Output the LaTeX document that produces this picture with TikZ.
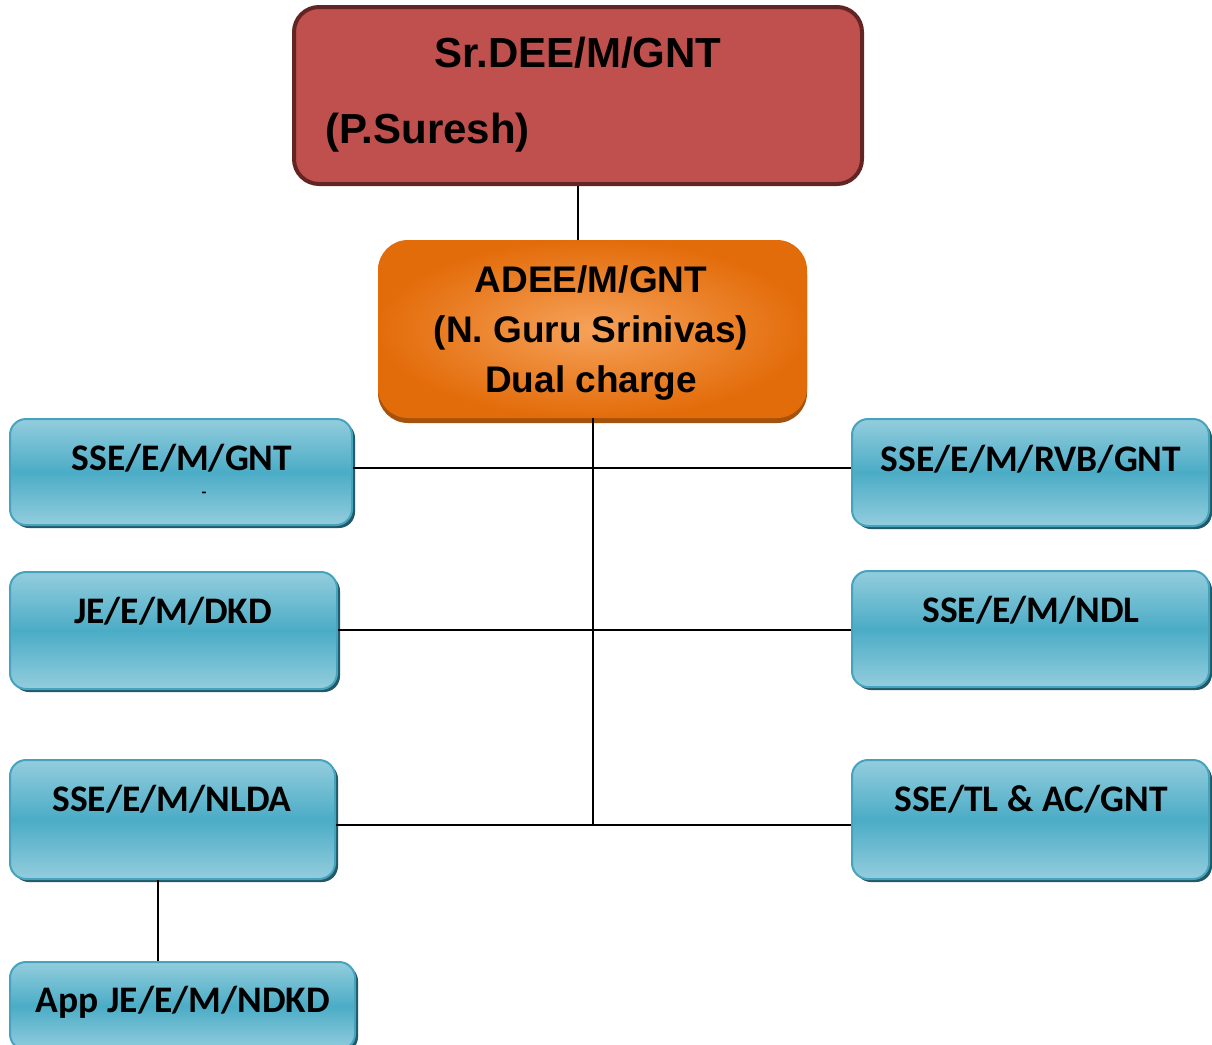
\documentclass[tikz,border=0pt]{standalone}
\usepackage{fontspec}
\setmainfont{Liberation Sans}
\newfontfamily\calfont{Carlito}
\usetikzlibrary{shadows}
\definecolor{srfill}{HTML}{C0504D}
\definecolor{srline}{HTML}{632523}
\definecolor{adeeout}{HTML}{E36C0A}
\definecolor{adeein}{HTML}{F6A25A}
\definecolor{adeeshade}{HTML}{A5520C}
\definecolor{sselight}{HTML}{93CDDD}
\definecolor{ssemid}{HTML}{4BACC6}
\definecolor{sseline}{HTML}{45A3BE}
\definecolor{sseshade}{HTML}{215967}
\begin{document}
\begin{tikzpicture}[x=1pt,y=-1pt,
	srbox/.style={draw=srline,fill=srfill,line width=4pt,rounded corners=25pt,minimum width=568pt,minimum height=177pt,inner sep=0pt},
	srtxt/.style={inner sep=0pt,font=\bfseries\fontsize{42}{48}\selectfont},
	adeebox/.style={inner color=adeein,outer color=adeeout,rounded corners=30pt,minimum width=429pt,minimum height=178pt,inner sep=0pt,drop shadow={fill=adeeshade,opacity=1,shadow xshift=0pt,shadow yshift=-5pt}},
	adeetxt/.style={anchor=base,inner sep=0pt,font=\bfseries\fontsize{37}{50}\selectfont},
	ssebox/.style={draw=sseline,line width=2pt,top color=sselight,bottom color=sselight,middle color=ssemid,rounded corners=16pt,inner sep=0pt,drop shadow={fill=sseshade,opacity=1,shadow xshift=3pt,shadow yshift=-3pt}},
	ssetxt/.style={anchor=base,inner sep=0pt,font=\calfont\bfseries\fontsize{37.5}{44}\selectfont},
	link/.style={line width=1.5pt}]
\clip (0,0) rectangle (1212,1044);
\node[srbox] (sr) at (578,95.5) {};
\node[srtxt,anchor=base] (srpost) at (578,67) {Sr.DEE/M/GNT};
\node[srtxt,anchor=base west] (srname) at (325,143) {(P.Suresh)};
\node[adeebox] (adee) at (592.5,329) {};
\node[adeetxt] (adeepost) at (591,292) {ADEE/M/GNT};
\node[adeetxt] (adeename) at (591,342) {(N. Guru Srinivas)};
\node[adeetxt] (adeenote) at (591,392) {Dual charge};
\node[ssebox,minimum width=342pt,minimum height=106pt] (gnt) at (181,472) {};
\node[ssetxt] (gnttxt) at (182,470) {SSE/E/M/GNT};
\node[inner sep=0pt,font=\calfont\bfseries\fontsize{16}{18}\selectfont] (gntdash) at (204,495) {-};
\node[ssebox,minimum width=357pt,minimum height=107pt] (rvb) at (1030.5,472.5) {};
\node[ssetxt] (rvbtxt) at (1031,471) {SSE/E/M/RVB/GNT};
\node[ssebox,minimum width=327pt,minimum height=117pt] (dkd) at (173.5,630.5) {};
\node[ssetxt] (dkdtxt) at (173,623) {JE/E/M/DKD};
\node[ssebox,minimum width=357pt,minimum height=116pt] (ndl) at (1030.5,629) {};
\node[ssetxt] (ndltxt) at (1031,622) {SSE/E/M/NDL};
\node[ssebox,minimum width=325pt,minimum height=119pt] (nlda) at (172.5,819.5) {};
\node[ssetxt] (nldatxt) at (172,811) {SSE/E/M/NLDA};
\node[ssebox,minimum width=357pt,minimum height=119pt] (tlac) at (1030.5,819.5) {};
\node[ssetxt] (tlactxt) at (1031,811) {SSE/TL \& AC/GNT};
\node[ssebox,minimum width=345pt,minimum height=88pt] (ndkd) at (182.5,1006) {};
\node[ssetxt] (ndkdtxt) at (183,1012) {App JE/E/M/NDKD};
\coordinate (r1) at (593,468);
\coordinate (r2) at (593,630);
\coordinate (r3) at (593,825);
\coordinate (c4) at (158,920);
\draw[link] (sr.south) -- (sr.south |- adee.north);
\draw[link,line width=2pt] (adee.south -| r3) -- (r3);
\draw[link] (gnt.east |- r1) -- (rvb.west |- r1);
\draw[link] (dkd.east |- r2) -- (ndl.west |- r2);
\draw[link] (nlda.east |- r3) -- (tlac.west |- r3);
\draw[link] (nlda.south -| c4) -- (ndkd.north -| c4);
\end{tikzpicture}
\end{document}
